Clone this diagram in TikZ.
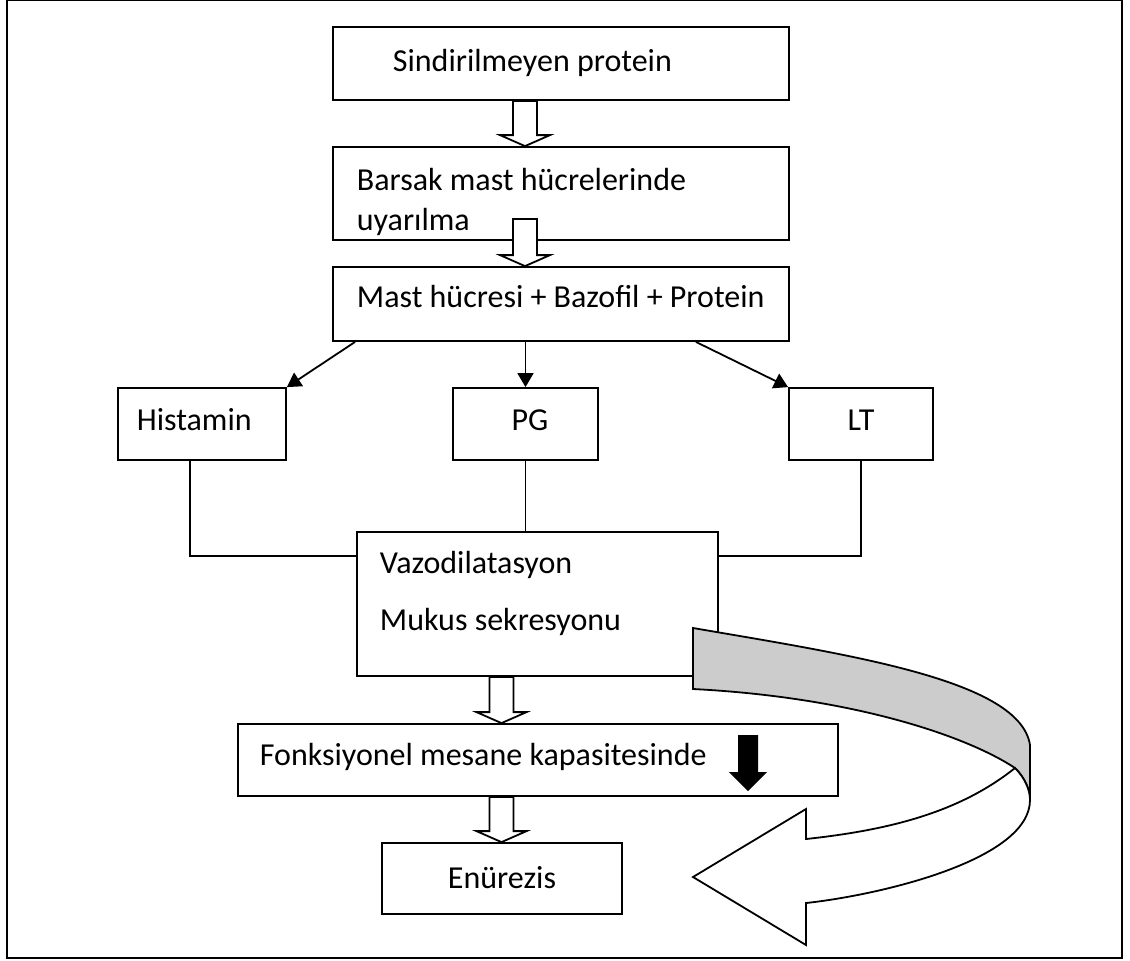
\documentclass[tikz,border=0pt]{standalone}
\usepackage{fontspec}
\setmainfont{Carlito}
\usetikzlibrary{arrows.meta,calc}

\newcommand{\blockarrow}[2]{%
  \draw[fill=white] let \p1=#1, \p2=#2 in
    (\x1-6pt,\y1) -- (\x1+6pt,\y1) -- (\x1+6pt,\y2+5.5pt) -- (\x1+12.5pt,\y2+5.5pt)
    -- (\x2,\y2) -- (\x1-12.5pt,\y2+5.5pt) -- (\x1-6pt,\y2+5.5pt) -- cycle;}

\begin{document}
\begin{tikzpicture}[x=0.5pt, y=-0.5pt, line width=0.9pt,
    box/.style={draw=black, rectangle, inner sep=0pt},
    txt/.style={anchor=base west, inner sep=0pt, font=\fontsize{16}{19}\selectfont},
    arr/.style={-{Triangle[length=7pt,width=8pt]}}]
    \useasboundingbox (0,0) rectangle (1130,960);
    \draw (7,0) rectangle (1122,958);

    \node[box, minimum width=228pt, minimum height=36.5pt] (A) at (561,63.5) {};
    \node[box, minimum width=228pt, minimum height=46.5pt] (B) at (561,193.5) {};
    \node[box, minimum width=228pt, minimum height=37pt] (C) at (561,304) {};

    \node[box, minimum width=84pt, minimum height=36pt] (D) at (202,424) {};
    \node[box, minimum width=72.5pt, minimum height=36pt] (E) at (525.5,424) {};
    \node[box, minimum width=72pt, minimum height=36pt] (F) at (861,424) {};

    \node[box, minimum width=180.5pt, minimum height=72pt] (G) at (537.5,604) {};
    \node[box, minimum width=300pt, minimum height=36pt] (H) at (538,760) {};
    \node[box, minimum width=120pt, minimum height=35.5pt] (I) at (502,878.5) {};

    \node[txt] (a) at (392,71) {Sindirilmeyen protein};
    \node[txt] (b1) at (356,190) {Barsak mast hücrelerinde};
    \node[txt] (b2) at (356,230) {uyarılma};
    \node[txt] (c) at (356,307) {Mast hücresi + Bazofil + Protein};
    \node[txt] (d) at (136,430) {Histamin};
    \node[txt, anchor=base] (e) at (530,430) {PG};
    \node[txt, anchor=base] (f) at (861,430) {LT};
    \node[txt] (g1) at (379,573) {Vazodilatasyon};
    \node[txt] (g2) at (379,630) {Mukus sekresyonu};
    \node[txt] (h) at (259,765) {Fonksiyonel mesane kapasitesinde};
    \node[txt, anchor=base] (i) at (502,888) {Enürezis};

    %\draw (C) -- (E);
    \draw[arr] ([xshift=11.5pt]C.south west) -- (D.north east);
    \draw[arr] (E.north |- C.south) -- (E.north);
    \draw[arr] ([xshift=-47pt]C.south east) -- (F.north west);

    \draw ([xshift=-6pt]D.south) |- ([yshift=24pt]G.west);
    \draw (E.south) -- (E.south |- G.north);
    \draw (F.south) |- ([yshift=24pt]G.east);

    \coordinate (p) at (525,0);
    \coordinate (s) at (525,219);
    \coordinate (q) at (501.5,0);
    \blockarrow{(p |- A.south)}{(p |- B.north)}
    \blockarrow{(s)}{(p |- C.north)}
    \blockarrow{(q |- G.south)}{(q |- H.north)}
    \blockarrow{(q |- H.south)}{(q |- I.north)}

    \fill (738,735) -- (758,735) -- (758,772) -- (767,772) -- (748,791)
        -- (729,772) -- (738,772) -- cycle;

    \draw[fill=black!20] (693,628) .. controls (850,655) and (1020,680) .. (1030,745)
        -- (1030,800) .. controls (1030,790) and (1025,778) .. (1015,768)
        .. controls (965,735) and (850,697) .. (693,689) -- cycle;
    \draw[fill=white] (1015,768) .. controls (960,812) and (890,830) .. (806,839)
        -- (806,809) -- (693,877) -- (806,945) -- (806,903)
        .. controls (880,895) and (1030,860) .. (1030,800)
        .. controls (1030,790) and (1025,778) .. (1015,768) -- cycle;
\end{tikzpicture}
\end{document}
